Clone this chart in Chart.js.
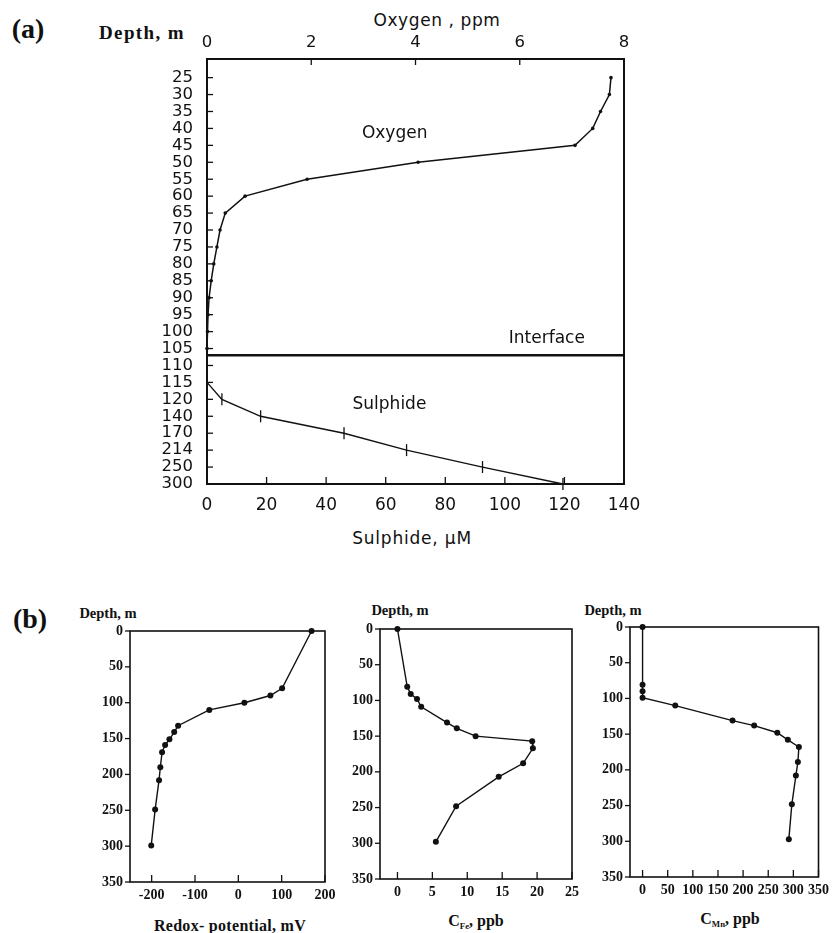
<!DOCTYPE html>
<html>
<head>
<meta charset="utf-8">
<script src="https://cdn.jsdelivr.net/npm/chart.js@4.4.1/dist/chart.umd.min.js"></script>
<style>
  body { margin: 0; background: #fff; }
  #page { position: relative; width: 834px; height: 933px; overflow: hidden; background: #fff; }
  .box { position: absolute; }
  .txt { position: absolute; transform: translate(-50%, -50%); white-space: nowrap; color: #111; line-height: 1; }
  .serif { font-family: "Liberation Serif", "DejaVu Serif", serif; font-weight: bold; }
  .sans { font-family: "DejaVu Sans", sans-serif; }
  sub { font-size: 0.55em; vertical-align: -0.35em; }
</style>
</head>
<body>
<div id="page">
  <div class="txt serif" style="left:28px;top:29px;font-size:28px;">(a)</div>
  <div class="txt serif" style="left:142px;top:32px;font-size:19px;letter-spacing:1.4px;">Depth, m</div>
  <div class="txt sans" style="left:437px;top:20px;font-size:17px;letter-spacing:0.6px;">Oxygen , ppm</div>
  <div class="txt sans" style="left:412px;top:538px;font-size:17px;letter-spacing:0.8px;">Sulphide, μM</div>

  <div class="txt serif" style="left:30px;top:619px;font-size:28px;">(b)</div>
  <div class="txt serif" style="left:108px;top:613px;font-size:14.5px;">Depth, m</div>
  <div class="txt serif" style="left:400px;top:610px;font-size:14.5px;">Depth, m</div>
  <div class="txt serif" style="left:613px;top:610px;font-size:14.5px;">Depth, m</div>
  <div class="txt serif" style="left:230px;top:926px;font-size:16px;letter-spacing:0.3px;">Redox- potential, mV</div>
  <div class="txt serif" style="left:476px;top:922px;font-size:16px;">C<sub>Fe</sub>, ppb</div>
  <div class="txt serif" style="left:730px;top:920px;font-size:16px;">C<sub>Mn</sub>, ppb</div>
</div>
<script>
// ---- panel (a): depth axis has uneven steps, points sit on the label rows
const depthLabelsA = [25, 30, 35, 40, 45, 50, 55, 60, 65, 70, 75, 80, 85, 90, 95, 100, 105, 110, 115, 120, 140, 170, 214, 250, 300]
const oxygenTicks = [0, 2, 4, 6, 8]
const sulphideTicks = [0, 20, 40, 60, 80, 100, 120, 140]

const oxygenDepths = [25, 30, 35, 40, 45, 50, 55, 60, 65, 70, 75, 80, 85, 90, 95, 100, 105]
const oxygenPpm = [7.75, 7.72, 7.55, 7.4, 7.06, 4.05, 1.92, 0.73, 0.35, 0.25, 0.19, 0.13, 0.08, 0.04, 0.02, 0.01, 0]

const sulphideDepths = [115, 120, 140, 170, 214, 250, 300]
const sulphideUM = [0, 5, 18, 46, 67, 92.5, 119.5]

const interfaceDepth = 107

// ---- panel (b)
const depthTicksB = [0, 50, 100, 150, 200, 250, 300, 350]

const redoxTicks = [-200, -100, 0, 100, 200]
const redoxDepths = [0, 80, 90, 100, 110, 132, 141, 151, 159, 169, 190, 208, 249, 299]
const redoxMV = [169, 101, 74, 14, -67, -139, -148, -159, -169, -176, -180, -183, -192, -201]

const feTicks = [0, 5, 10, 15, 20, 25]
const feDepths = [0, 81, 91, 98, 109, 131, 139, 150, 157, 167, 188, 207, 248, 298]
const fePpb = [0, 1.4, 1.9, 2.8, 3.4, 7.1, 8.5, 11.2, 19.3, 19.4, 18.0, 14.5, 8.4, 5.5]

const mnTicks = [0, 50, 100, 150, 200, 250, 300, 350]
const mnDepths = [0, 81, 90, 99, 110, 131, 138, 148, 158, 168, 189, 208, 248, 297]
const mnPpb = [0, 0, 0, 0, 65, 179, 222, 268, 289, 311, 309, 305, 297, 291]

const INK = '#111'
const page = document.getElementById('page')

function depthToIndex(d) {
  for (let i = 0; i < depthLabelsA.length - 1; i++) {
    const a = depthLabelsA[i], b = depthLabelsA[i + 1]
    if (d >= a && d <= b) return i + (d - a) / (b - a)
  }
  return d < depthLabelsA[0] ? 0 : depthLabelsA.length - 1
}

const zip = (xs, ys) => xs.map((x, i) => ({ x, y: ys[i] }))

// box frame, inner/outer tick marks and in-plot labels
const framePlugin = {
  id: 'frame',
  afterDraw(chart, args, opts) {
    const { ctx, chartArea: a } = chart
    ctx.save()
    ctx.strokeStyle = INK
    ctx.lineWidth = opts.width
    ctx.strokeRect(a.left, a.top, a.right - a.left, a.bottom - a.top)
    ctx.lineWidth = opts.tickWidth
    ;(opts.marks || []).forEach(({ id, len }) => {
      const scale = chart.scales[id]
      scale.ticks.forEach((t, i) => {
        const p = scale.getPixelForTick(i)
        ctx.beginPath()
        if (scale.position === 'left') { ctx.moveTo(a.left, p); ctx.lineTo(a.left + len, p) }
        else if (scale.position === 'top') { ctx.moveTo(p, a.top); ctx.lineTo(p, a.top + len) }
        else { ctx.moveTo(p, a.bottom); ctx.lineTo(p, a.bottom - len) }
        ctx.stroke()
      })
    })
    ;(opts.notes || []).forEach(n => {
      ctx.font = n.font
      ctx.fillStyle = INK
      ctx.textAlign = 'center'
      ctx.textBaseline = 'middle'
      const x = chart.scales[n.xId].getPixelForValue(n.x)
      const y = chart.scales[n.yId].getPixelForValue(n.y)
      ctx.fillText(n.text, x, y)
    })
    ctx.restore()
  }
}

function makeChart({ box, area, scales, datasets, frame }) {
  const wrap = document.createElement('div')
  wrap.className = 'box'
  wrap.style.cssText = `left:${box.left}px;top:${box.top}px;width:${box.w}px;height:${box.h}px;`
  const canvas = document.createElement('canvas')
  canvas.width = box.w
  canvas.height = box.h
  wrap.appendChild(canvas)
  page.appendChild(wrap)

  const hasTop = Object.values(scales).some(s => s.position === 'top')
  Object.values(scales).forEach(s => {
    s.afterFit = (sc) => {
      if (s.position === 'left') sc.width = area.left - box.left
      else if (s.position === 'top') sc.height = area.top - box.top
      else sc.height = box.top + box.h - area.bottom
    }
    s.grid = { display: false, drawTicks: false, tickLength: 0 }
    s.border = { display: false }
  })

  return new Chart(canvas, {
    type: 'scatter',
    data: { datasets },
    options: {
      responsive: false,
      animation: false,
      events: [],
      layout: {
        padding: {
          left: 0,
          bottom: 0,
          top: hasTop ? 0 : area.top - box.top,
          right: box.left + box.w - area.right
        }
      },
      plugins: { legend: { display: false }, tooltip: { enabled: false }, frame },
      scales
    },
    plugins: [framePlugin]
  })
}

// ---------- (a)
const sansTick = { family: 'DejaVu Sans', size: 16.5 }
const oxIdx = oxygenDepths.map(depthToIndex)
const sulIdx = sulphideDepths.map(depthToIndex)
const ifaceIdx = depthToIndex(interfaceDepth)

makeChart({
  box: { left: 0, top: 0, w: 700, h: 525 },
  area: { left: 207, top: 59, right: 624, bottom: 484 },
  scales: {
    y: {
      type: 'linear', position: 'left', reverse: true, min: -1.1, max: depthLabelsA.length - 1,
      afterBuildTicks: s => { s.ticks = depthLabelsA.map((_, i) => ({ value: i })) },
      ticks: { autoSkip: false, padding: 14, color: INK, font: sansTick, callback: v => depthLabelsA[v] ?? '' }
    },
    ox: {
      type: 'linear', position: 'top', min: 0, max: 8,
      afterBuildTicks: s => { s.ticks = oxygenTicks.map(v => ({ value: v })) },
      ticks: { autoSkip: false, maxRotation: 0, padding: 6, color: INK, font: sansTick }
    },
    x: {
      type: 'linear', position: 'bottom', min: 0, max: 140,
      afterBuildTicks: s => { s.ticks = sulphideTicks.map(v => ({ value: v })) },
      ticks: { autoSkip: false, maxRotation: 0, padding: 11, color: INK, font: { family: 'DejaVu Sans', size: 17 } }
    }
  },
  datasets: [
    {
      data: zip(oxygenPpm, oxIdx), xAxisID: 'ox', yAxisID: 'y', showLine: true, clip: false,
      borderColor: INK, borderWidth: 1.5, pointRadius: 1.8, pointBackgroundColor: INK, pointBorderWidth: 0
    },
    {
      data: zip(sulphideUM, sulIdx), xAxisID: 'x', yAxisID: 'y', showLine: true, clip: false,
      borderColor: INK, borderWidth: 1.4, pointStyle: 'line', rotation: 90, pointRadius: 6,
      pointBorderColor: INK, pointBorderWidth: 1.3
    },
    {
      data: [{ x: 0, y: ifaceIdx }, { x: 8, y: ifaceIdx }], xAxisID: 'ox', yAxisID: 'y', showLine: true, clip: false,
      borderColor: INK, borderWidth: 2.5, pointRadius: 0
    }
  ],
  frame: {
    width: 2, tickWidth: 1.3,
    marks: [{ id: 'y', len: 6 }, { id: 'ox', len: 6 }, { id: 'x', len: 7 }],
    notes: [
      { text: 'Oxygen', x: 3.6, y: depthToIndex(41.5), xId: 'ox', yId: 'y', font: '17px "DejaVu Sans"' },
      { text: 'Interface', x: 6.52, y: depthToIndex(102), xId: 'ox', yId: 'y', font: '17px "DejaVu Sans"' },
      { text: 'Sulphide', x: 3.5, y: depthToIndex(126), xId: 'ox', yId: 'y', font: '17px "DejaVu Sans"' }
    ]
  }
})

// ---------- (b)
const serifTick = { family: 'Liberation Serif', size: 14, weight: 'bold' }

function profile({ box, area, xMin, xMax, xTicks, depths, values }) {
  return makeChart({
    box, area,
    scales: {
      y: {
        type: 'linear', position: 'left', reverse: true, min: 0, max: 350,
        afterBuildTicks: s => { s.ticks = depthTicksB.map(v => ({ value: v })) },
        ticks: { autoSkip: false, padding: 7, color: INK, font: serifTick }
      },
      x: {
        type: 'linear', position: 'bottom', min: xMin, max: xMax,
        afterBuildTicks: s => { s.ticks = xTicks.map(v => ({ value: v })) },
        ticks: { autoSkip: false, maxRotation: 0, padding: 5, color: INK, font: serifTick }
      }
    },
    datasets: [{
      data: zip(values, depths), showLine: true, clip: false,
      borderColor: INK, borderWidth: 1.4, pointRadius: 3, pointBackgroundColor: INK, pointBorderWidth: 0
    }],
    frame: { width: 1.6, tickWidth: 1.3, marks: [{ id: 'y', len: -5 }, { id: 'x', len: 7 }] }
  })
}

profile({
  box: { left: 60, top: 600, w: 290, h: 305 },
  area: { left: 130, top: 631, right: 325, bottom: 882 },
  xMin: -250, xMax: 200, xTicks: redoxTicks, depths: redoxDepths, values: redoxMV
})

profile({
  box: { left: 330, top: 600, w: 260, h: 305 },
  area: { left: 380, top: 629, right: 572, bottom: 879 },
  xMin: -2.5, xMax: 25, xTicks: feTicks, depths: feDepths, values: fePpb
})

profile({
  box: { left: 580, top: 600, w: 254, h: 305 },
  area: { left: 630, top: 627, right: 821, bottom: 877 },
  xMin: -25, xMax: 350, xTicks: mnTicks, depths: mnDepths, values: mnPpb
})
</script>
</body>
</html>
